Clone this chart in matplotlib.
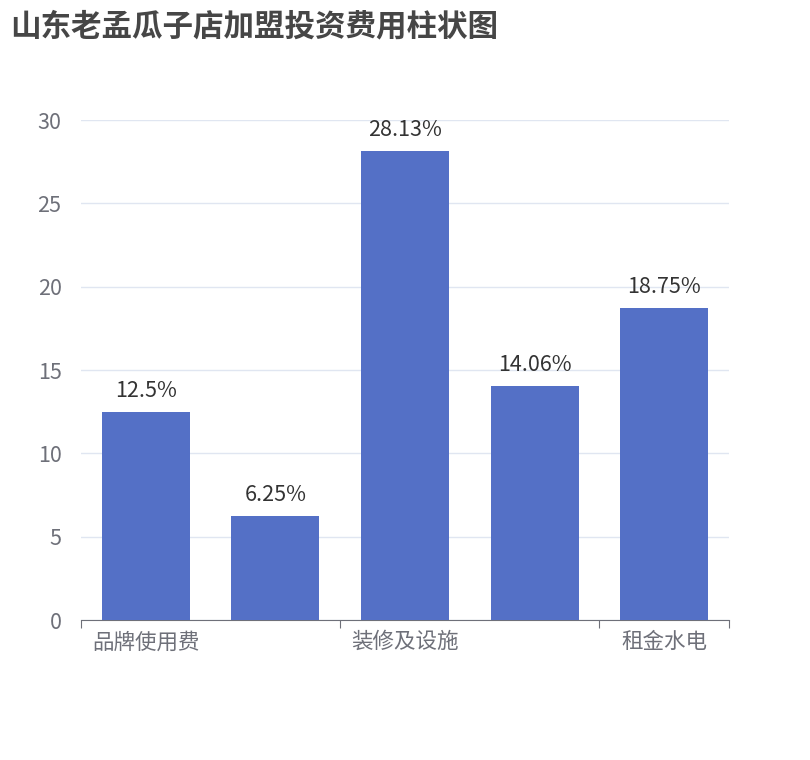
import matplotlib.pyplot as plt

plt.rcParams['font.family'] = ['Noto Sans CJK SC', 'DejaVu Sans']

categories = ['品牌使用费', '保证金', '装修及设施', '设备费用', '租金水电']
values = [12.5, 6.25, 28.13, 14.06, 18.75]
bar_labels = ['12.5%', '6.25%', '28.13%', '14.06%', '18.75%']
y_ticks = [0, 5, 10, 15, 20, 25, 30]

fig = plt.figure(figsize=(8.1, 7.6), dpi=100)
ax = fig.add_axes([0.1, 0.184, 0.8, 0.658])

x = range(len(categories))
bars = ax.bar(x, values, width=0.68, color='#5470c6', zorder=3)
for b, lab in zip(bars, bar_labels):
    ax.text(b.get_x() + b.get_width() / 2, b.get_height() + 0.6, lab,
            ha='center', va='bottom', fontsize=15.5, color='#333333')

ax.set_xlim(-0.5, len(categories) - 0.5)
ax.set_ylim(0, 30)
ax.set_yticks(y_ticks)
ax.grid(axis='y', color='#e0e6f1', linewidth=1, zorder=0)
ax.tick_params(axis='y', length=0, labelsize=15.5, labelcolor='#6e7079', pad=14)

# tick marks on category boundaries, labels on every other category
ax.set_xticks([-0.5, 1.5, 3.5, 4.5])
ax.set_xticklabels([])
ax.tick_params(axis='x', which='major', length=6, color='#6e7079')
ax.set_xticks([0, 2, 4], minor=True)
ax.set_xticklabels([categories[i] for i in (0, 2, 4)], minor=True)
ax.tick_params(axis='x', which='minor', length=0, labelsize=15.5,
               labelcolor='#6e7079', pad=8)

for s in ['top', 'right', 'left']:
    ax.spines[s].set_visible(False)
ax.spines['bottom'].set_color('#6e7079')

fig.text(0.012, 0.965, '山东老孟瓜子店加盟投资费用柱状图', fontsize=22,
         fontweight='bold', color='#464646', va='center', ha='left')

fig.savefig('out.png', dpi=100)
